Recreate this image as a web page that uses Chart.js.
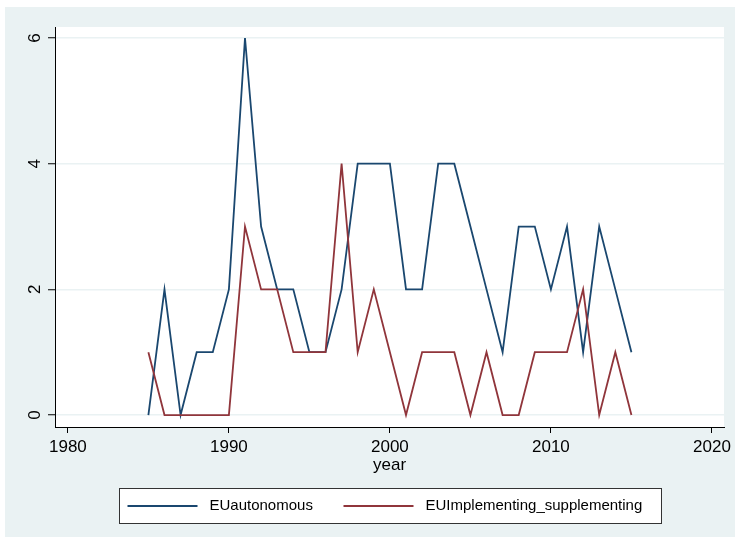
<!DOCTYPE html>
<html>
<head>
<meta charset="utf-8">
<script src="https://cdn.jsdelivr.net/npm/chart.js@4.4.1/dist/chart.umd.min.js"></script>
<style>
  html, body { margin: 0; padding: 0; background: #fff; }
  #wrap { width: 735px; height: 541px; }
</style>
</head>
<body>
<div id="wrap"><canvas id="chart" width="735" height="541"></canvas></div>
<script>
const years = [
  1985, 1986, 1987, 1988, 1989, 1990, 1991, 1992, 1993, 1994, 1995,
  1996, 1997, 1998, 1999, 2000, 2001, 2002, 2003, 2004, 2005, 2006,
  2007, 2008, 2009, 2010, 2011, 2012, 2013, 2014, 2015,
];
const euAutonomous = [
  0, 2, 0, 1, 1, 2, 6, 3, 2, 2, 1,
  1, 2, 4, 4, 4, 2, 2, 4, 4, 3, 2,
  1, 3, 3, 2, 3, 1, 3, 2, 1,
];
const euImplementing = [
  1, 0, 0, 0, 0, 0, 3, 2, 2, 1, 1,
  1, 4, 1, 2, 1, 0, 1, 1, 1, 0, 1,
  0, 0, 1, 1, 1, 2, 0, 1, 0,
];
const seriesNames = ["EUautonomous", "EUImplementing_supplementing"];
const xTicks = [1980, 1990, 2000, 2010, 2020];
const yTicks = [0, 2, 4, 6];

const blue = "#1a476f";
const red = "#90353b";
const bgBlue = "#eaf2f3";
const font = "'Liberation Sans', Arial, Helvetica, sans-serif";

const toPoints = (vals) => years.map((yr, i) => ({ x: yr, y: vals[i] }));

// Stata-like backdrop: light graph region, white plot region
const backdrop = {
  id: "backdrop",
  beforeDraw(chart) {
    const { ctx, chartArea } = chart;
    ctx.save();
    ctx.fillStyle = "#fff";
    ctx.fillRect(0, 0, chart.width, chart.height);
    ctx.fillStyle = bgBlue;
    ctx.fillRect(5, 7, chart.width - 5, 530);
    ctx.fillStyle = "#fff";
    ctx.fillRect(chartArea.left, chartArea.top,
      chartArea.right - chartArea.left, chartArea.bottom - chartArea.top);
    ctx.restore();
  },
};

// vertical y labels + framed legend
const extras = {
  id: "extras",
  afterDraw(chart) {
    const { ctx, chartArea } = chart;
    const yScale = chart.scales.y;
    ctx.save();
    ctx.fillStyle = "#000";
    ctx.font = `17px ${font}`;
    ctx.textAlign = "center";
    ctx.textBaseline = "middle";
    yTicks.forEach((v) => {
      ctx.save();
      ctx.translate(35, yScale.getPixelForValue(v));
      ctx.rotate(-Math.PI / 2);
      ctx.fillText(String(v), 0, 0);
      ctx.restore();
    });

    const boxW = 542;
    const boxH = 35;
    const boxX = Math.round((chartArea.left + chartArea.right) / 2 - boxW / 2) + 0.5;
    const boxY = 488.5;
    ctx.fillStyle = "#fff";
    ctx.fillRect(boxX, boxY, boxW, boxH);
    ctx.strokeStyle = "#333";
    ctx.lineWidth = 1;
    ctx.strokeRect(boxX, boxY, boxW, boxH);

    const midY = boxY + boxH / 2;
    const itemX = [boxX + 8, boxX + 224];
    ctx.font = `15px ${font}`;
    ctx.textAlign = "left";
    chart.data.datasets.forEach((ds, i) => {
      ctx.strokeStyle = ds.borderColor;
      ctx.lineWidth = 2;
      ctx.beginPath();
      ctx.moveTo(itemX[i], midY);
      ctx.lineTo(itemX[i] + 70, midY);
      ctx.stroke();
      ctx.fillStyle = "#000";
      ctx.fillText(ds.label, itemX[i] + 82, midY);
    });
    ctx.restore();
  },
};

new Chart(document.getElementById("chart"), {
  type: "line",
  data: {
    datasets: [
      {
        label: seriesNames[0],
        data: toPoints(euAutonomous),
        borderColor: blue,
        backgroundColor: blue,
        borderWidth: 1.8,
        pointRadius: 0,
        tension: 0,
        order: 2,
      },
      {
        label: seriesNames[1],
        data: toPoints(euImplementing),
        borderColor: red,
        backgroundColor: red,
        borderWidth: 1.8,
        pointRadius: 0,
        tension: 0,
        order: 1,
      },
    ],
  },
  options: {
    responsive: false,
    animation: false,
    devicePixelRatio: 1,
    layout: { padding: { left: 0, right: 9, top: 27, bottom: 65 } },
    plugins: {
      legend: { display: false },
      tooltip: { enabled: false },
    },
    scales: {
      x: {
        type: "linear",
        min: 1979.2,
        max: 2020.75,
        afterBuildTicks: (scale) => {
          scale.ticks = xTicks.map((v) => ({ value: v }));
        },
        afterFit: (scale) => {
          scale.height = 49;
        },
        grid: {
          drawOnChartArea: false,
          drawTicks: true,
          tickLength: 6,
          tickColor: "#000",
          tickWidth: 1,
        },
        border: { color: "#000", width: 1 },
        ticks: {
          color: "#000",
          padding: 4,
          maxRotation: 0,
          font: { family: font, size: 17 },
          callback: (v) => String(v),
        },
        title: {
          display: true,
          text: "year",
          color: "#000",
          padding: { top: 0, bottom: 0 },
          font: { family: font, size: 17 },
        },
      },
      y: {
        type: "linear",
        min: -0.19,
        max: 6.175,
        afterBuildTicks: (scale) => {
          scale.ticks = yTicks.map((v) => ({ value: v }));
        },
        afterFit: (scale) => {
          scale.width = 55;
        },
        grid: {
          color: bgBlue,
          lineWidth: 1.5,
          drawTicks: true,
          tickLength: 7,
          tickColor: "#000",
          tickWidth: 1,
        },
        border: { color: "#000", width: 1 },
        ticks: { display: false },
      },
    },
  },
  plugins: [backdrop, extras],
});
</script>
</body>
</html>
